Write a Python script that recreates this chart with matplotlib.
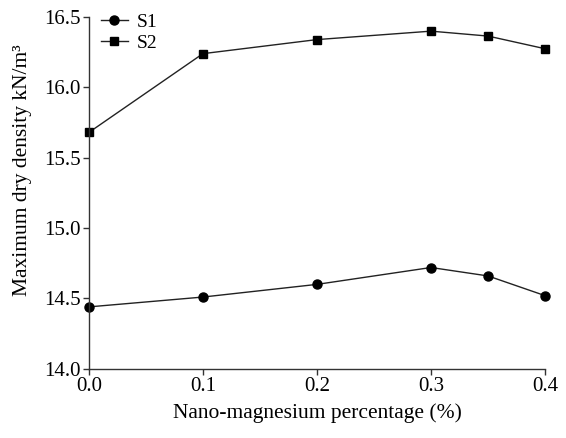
import matplotlib
matplotlib.use("Agg")
import matplotlib.pyplot as plt

x_pct = [0.0, 0.1, 0.2, 0.3, 0.35, 0.4]
s1_density = [14.44, 14.51, 14.60, 14.72, 14.66, 14.52]
s2_density = [15.68, 16.24, 16.34, 16.40, 16.365, 16.275]
x_ticks = [0.0, 0.1, 0.2, 0.3, 0.4]
y_ticks = [14.0, 14.5, 15.0, 15.5, 16.0, 16.5]

plt.rcParams["font.family"] = ["Liberation Serif", "DejaVu Serif"]
plt.rcParams["font.size"] = 15

fig = plt.figure(figsize=(5.66, 4.38), dpi=100)
ax = fig.add_axes([0.157, 0.158, 0.806, 0.803])

ax.plot(x_pct, s1_density, color="#222222", lw=1.0, marker="o", ms=6.5,
        markerfacecolor="black", markeredgecolor="black", label="S1", clip_on=False)
ax.plot(x_pct, s2_density, color="#222222", lw=1.0, marker="s", ms=6,
        markerfacecolor="black", markeredgecolor="black", label="S2", clip_on=False)

ax.set_xlim(0.0, 0.4)
ax.set_ylim(14.0, 16.5)
ax.set_xticks(x_ticks)
ax.set_xticklabels([f"{v:.1f}" for v in x_ticks])
ax.set_yticks(y_ticks)
ax.set_yticklabels([f"{v:.1f}" for v in y_ticks])

for side in ("top", "right"):
    ax.spines[side].set_visible(False)
for side in ("left", "bottom"):
    ax.spines[side].set_color("#333333")
    ax.spines[side].set_linewidth(1.0)
ax.tick_params(direction="out", length=4, width=1.0, color="#333333", labelsize=15, pad=2)

ax.set_xlabel("Nano-magnesium percentage (%)", fontsize=15.5, labelpad=5)
ax.set_ylabel("Maximum dry density kN/m³", fontsize=15.5)
ax.yaxis.set_label_coords(-0.125, 0.565)

ax.legend(loc="upper left", bbox_to_anchor=(0.0, 1.045), frameon=False,
          handlelength=1.4, handletextpad=0.45, labelspacing=0.2, fontsize=14,
          borderaxespad=0.2)

fig.savefig("out.png", dpi=100)
